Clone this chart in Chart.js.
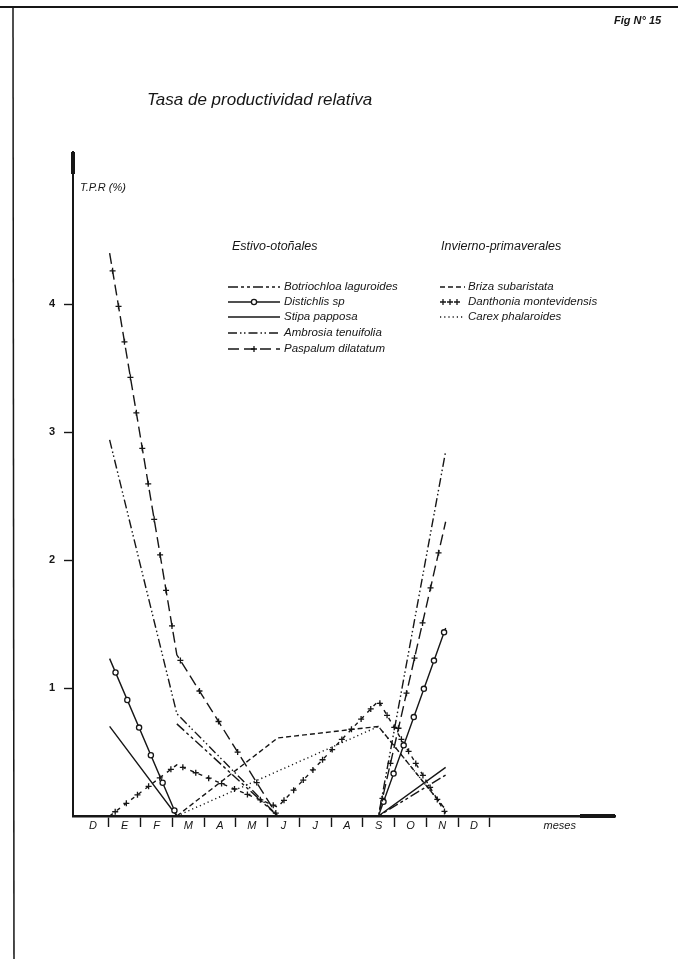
<!doctype html>
<html lang="es">
<head>
<meta charset="utf-8" />
<title>Tasa de productividad relativa</title>
<script src="https://cdn.jsdelivr.net/npm/chart.js@4.4.1/dist/chart.umd.min.js"></script>
<style>
    html, body { margin: 0; padding: 0; background: #fff; }
    #wrap { position: relative; width: 678px; height: 959px; }
</style>
</head>
<body>
<div id="wrap"><canvas id="grafico"></canvas></div>

<script>
// meses de diciembre a diciembre
const meses = ['D', 'E', 'F', 'M', 'A', 'M', 'J', 'J', 'A', 'S', 'O', 'N', 'D'];
const ticksY = [1, 2, 3, 4];

// T.P.R (%) por mes, null = sin medicion (la linea se une en linea recta)
// estivo-otonales
const botriochloa = [null, null, null, 0.72, null, null, 0, null, null, 0, null, 0.32, null];
const distichlis  = [null, 1.23, null, 0, null, null, null, null, null, 0, null, 1.47, null];
const stipa       = [null, 0.70, null, 0, null, null, null, null, null, 0, null, 0.38, null];
const ambrosia    = [null, 2.94, null, 0.80, null, null, 0, null, null, 0, null, 2.85, null];
const paspalum    = [null, 4.40, null, 1.26, null, null, 0, null, null, 0, null, 2.30, null];
// invierno-primaverales
const briza       = [null, null, null, 0, null, null, 0.61, null, null, 0.70, null, 0.05, null];
const danthonia   = [null, 0, null, 0.40, null, null, 0.07, null, null, 0.90, null, 0.02, null];
const carex       = [null, null, null, 0, null, null, null, null, null, 0.70, null, 0.05, null];

const INK = '#161616';
const FONT = '"Liberation Sans", Arial, sans-serif';

function serie(nombre, valores, dash, decor) {
    return {
        label: nombre,
        data: valores.map((v, i) => ({x: i, y: v})),
        borderColor: INK,
        borderWidth: 1.4,
        borderDash: dash,
        pointRadius: 0,
        tension: 0,
        spanGaps: true,
        fill: false,
        decor: decor
    };
}

//marcas dibujadas sobre las lineas (circulos, cruces)
function marca(ctx, x, y, tipo) {
    ctx.save();
    ctx.setLineDash([]);
    ctx.strokeStyle = INK;
    ctx.lineWidth = 1.3;
    if (tipo === 'circulo') {
        ctx.beginPath();
        ctx.arc(x, y, 2.6, 0, Math.PI * 2);
        ctx.fillStyle = '#fff';
        ctx.fill();
        ctx.stroke();
    } else {
        ctx.beginPath();
        ctx.moveTo(x - 3, y); ctx.lineTo(x + 3, y);
        ctx.moveTo(x, y - 3); ctx.lineTo(x, y + 3);
        ctx.stroke();
    }
    ctx.restore();
}

const decorPlugin = {
    id: 'decor',
    afterDatasetsDraw(chart) {
        const ctx = chart.ctx;
        chart.data.datasets.forEach((ds, di) => {
            if (!ds.decor) return;
            const meta = chart.getDatasetMeta(di);
            const pts = [], vals = [];
            ds.data.forEach((d, i) => { if (d.y !== null) { pts.push(meta.data[i]); vals.push(d.y); } });
            let resto = ds.decor.paso / 2;
            for (let k = 0; k < pts.length - 1; k++) {
                const a = pts[k], b = pts[k + 1];
                if (vals[k] === 0 && vals[k + 1] === 0) { resto = ds.decor.paso / 2; continue; }
                const len = Math.hypot(b.x - a.x, b.y - a.y);
                let t = resto;
                while (t < len) {
                    marca(ctx, a.x + (b.x - a.x) * t / len, a.y + (b.y - a.y) * t / len, ds.decor.tipo);
                    t += ds.decor.paso;
                }
                resto = t - len;
            }
        });
    }
};

//textos, marco y leyenda
const textosPlugin = {
    id: 'textos',
    afterDraw(chart) {
        const ctx = chart.ctx;
        const ds = chart.data.datasets;
        const area = chart.chartArea;
        ctx.save();
        ctx.strokeStyle = INK;
        ctx.fillStyle = INK;
        // marco de la hoja
        ctx.lineWidth = 2;
        ctx.beginPath(); ctx.moveTo(0, 7); ctx.lineTo(678, 7); ctx.stroke();
        ctx.lineWidth = 1.5;
        ctx.beginPath(); ctx.moveTo(13, 7); ctx.lineTo(14, 959); ctx.stroke();
        // tramos gruesos de los ejes
        ctx.lineWidth = 4;
        ctx.beginPath(); ctx.moveTo(area.left, area.top); ctx.lineTo(area.left, area.top + 22); ctx.stroke();
        ctx.beginPath(); ctx.moveTo(area.right - 35, area.bottom); ctx.lineTo(area.right, area.bottom); ctx.stroke();

        ctx.textBaseline = 'middle';
        ctx.textAlign = 'left';
        ctx.font = 'italic bold 11px ' + FONT;
        ctx.fillText('Fig N° 15', 614, 21);
        ctx.font = 'italic 17px ' + FONT;
        ctx.fillText('Tasa de productividad relativa', 147, 100);
        ctx.font = 'italic 11px ' + FONT;
        ctx.fillText('T.P.R (%)', 80, 188);
        ctx.font = 'italic 12.5px ' + FONT;
        ctx.fillText('Estivo-otoñales', 232, 247);
        ctx.fillText('Invierno-primaverales', 441, 247);

        const filasIzq = [287, 302, 317, 333, 349];
        const filasDer = [287, 302, 317];
        ctx.font = 'italic 11.5px ' + FONT;
        ctx.lineWidth = 1.4;
        const muestra = (d, x0, x1, y, xt) => {
            if (d.decor && d.decor.tipo === 'cruz' && d.decor.paso < 20) {
                [x0 + 3, x0 + 10, x0 + 17].forEach(x => marca(ctx, x, y, 'cruz'));
            } else {
                ctx.setLineDash(d.borderDash);
                ctx.beginPath(); ctx.moveTo(x0, y); ctx.lineTo(x1, y); ctx.stroke();
                ctx.setLineDash([]);
                if (d.decor) marca(ctx, (x0 + x1) / 2, y, d.decor.tipo);
            }
            ctx.fillText(d.label, xt, y);
        };
        filasIzq.forEach((y, i) => muestra(ds[i], 228, 280, y, 284));
        filasDer.forEach((y, i) => muestra(ds[5 + i], 440, 465, y, 468));
        ctx.restore();
    }
};

//posiciones de rotulos (meses) y de rayitas entre meses en el eje de rotulos
const marcasX = meses.map((m, i) => i).concat(meses.map((m, i) => i + 0.5), [14.7]);

new Chart(document.getElementById('grafico'), {
    type: 'line',
    data: {
        datasets: [
            serie('Botriochloa laguroides', botriochloa, [10, 3, 3, 3, 3, 3]),
            serie('Distichlis sp', distichlis, [], {tipo: 'circulo', paso: 30}),
            serie('Stipa papposa', stipa, []),
            serie('Ambrosia tenuifolia', ambrosia, [9, 3, 1.5, 2.5, 1.5, 3]),
            serie('Paspalum dilatatum', paspalum, [11, 5], {tipo: 'cruz', paso: 36}),
            serie('Briza subaristata', briza, [5, 3]),
            serie('Danthonia montevidensis', danthonia, [4, 5], {tipo: 'cruz', paso: 14}),
            serie('Carex phalaroides', carex, [1.2, 3])
        ]
    },
    options: {
        responsive: true,
        maintainAspectRatio: false,
        animation: false,
        layout: { padding: { top: 152, left: 0, right: 63, bottom: 113 } },
        plugins: {
            legend: { display: false },
            title: { display: false },
            tooltip: { enabled: false }
        },
        scales: {
            x: { type: 'linear', display: false, min: -0.09, max: 16.04 },
            xm: {
                type: 'linear',
                position: 'bottom',
                min: -0.63,
                max: 16.44,
                afterBuildTicks: s => { s.ticks = marcasX.map(v => ({value: v})); },
                afterFit: s => { s.height = 30; },
                border: { display: true, color: INK, width: 2.5 },
                grid: {
                    drawOnChartArea: false,
                    tickLength: 11,
                    tickWidth: 1.4,
                    tickColor: c => (c.tick && c.tick.value % 1 !== 0 && c.tick.value < 13) ? INK : 'rgba(0,0,0,0)'
                },
                ticks: {
                    autoSkip: false,
                    maxRotation: 0,
                    padding: -8,
                    color: INK,
                    font: { family: FONT, size: 11, style: 'italic' },
                    callback: v => Number.isInteger(v) ? meses[v] : (v > 13 ? 'meses' : '')
                }
            },
            y: {
                min: 0,
                max: 5.19,
                afterBuildTicks: s => { s.ticks = ticksY.map(v => ({value: v})); },
                afterFit: s => { s.width = 73; },
                border: { display: true, color: INK, width: 2 },
                grid: { drawOnChartArea: false, tickLength: 9, tickWidth: 1.4, tickColor: INK },
                ticks: { padding: 9, color: INK, font: { family: FONT, size: 11, weight: 'bold' } }
            }
        }
    },
    plugins: [decorPlugin, textosPlugin]
});
</script>
</body>
</html>
